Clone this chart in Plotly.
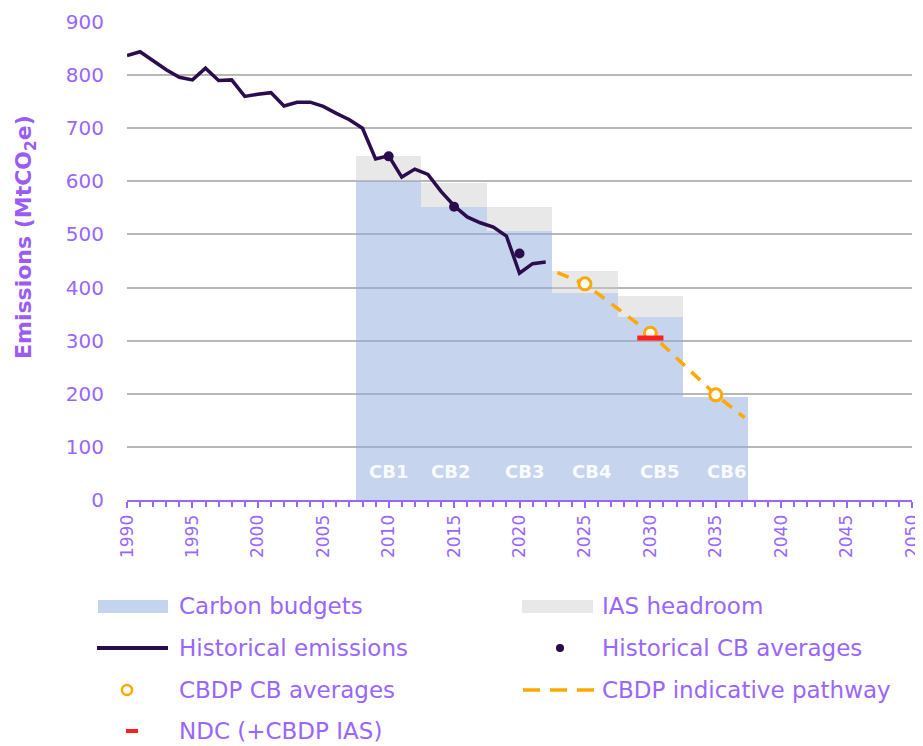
"""UK emissions vs carbon budgets chart."""

import plotly.graph_objects as go

# --- data -----------------------------------------------------------------
hist_years = list(range(1990, 2023))
hist_emissions = [
    837, 844, 827, 810, 796, 791, 813, 790, 791, 760,
    764, 767, 742, 749, 749, 741, 728, 716, 700, 642,
    648, 608, 623, 613, 581, 554, 533, 522, 514, 497,
    427, 445, 448,
]

cb_names = ["CB1", "CB2", "CB3", "CB4", "CB5", "CB6"]
cb_mid_years = [2010, 2015, 2020, 2025, 2030, 2035]
cb_budgets = [601, 552, 507, 389, 344, 194]
ias_headroom = [46, 45, 45, 42, 40, 0]
cb_label_x = [2010.0, 2014.7, 2020.4, 2025.5, 2030.7, 2035.8]

hist_cb_avg_years = [2010, 2015, 2020]
hist_cb_avg = [647, 552, 464]

cbdp_avg_years = [2025, 2030, 2035]
cbdp_avg = [407, 314, 198]

pathway_years = [2022.9, 2025, 2030, 2035, 2037.2]
pathway_values = [428, 407, 314, 198, 155]

ndc_years = [2029, 2031]
ndc_values = [305, 305]

# --- styling --------------------------------------------------------------
PURPLE = "#9966ff"
DARK = "#2b0d4d"
ORANGE = "#ffa800"
RED = "#ff1f1f"
BLUE = "#c5d4ee"
GREY = "#e8e8e8"
FONT = "DejaVu Sans"

# page body adds an 8px offset; plot area on screen is x 127..912, y 22..500
OFF = 8
W, H = 915, 738
L, R, T, B = 119, 11, 14, 246
PW, PH = W - L - R, H - T - B


def px(x):
    return (x - OFF - L) / PW


def py(y):
    return (H - B - (y - OFF)) / PH


fig = go.Figure()

fig.add_trace(go.Bar(
    x=cb_mid_years, y=cb_budgets, width=5,
    marker=dict(color="rgba(142,170,219,0.5)", line_width=0),
    name="Carbon budgets", showlegend=False,
))
fig.add_trace(go.Bar(
    x=cb_mid_years, y=ias_headroom, width=5,
    marker=dict(color="rgba(200,200,200,0.42)", line_width=0),
    name="IAS headroom", showlegend=False,
))
fig.add_trace(go.Scatter(
    x=hist_years, y=hist_emissions, mode="lines",
    line=dict(color=DARK, width=3.5),
    name="Historical emissions", showlegend=False,
))
fig.add_trace(go.Scatter(
    x=hist_cb_avg_years, y=hist_cb_avg, mode="markers",
    marker=dict(color=DARK, size=10),
    name="Historical CB averages", showlegend=False,
))
fig.add_trace(go.Scatter(
    x=pathway_years, y=pathway_values, mode="lines",
    line=dict(color=ORANGE, width=3.5, dash="12px,9px"),
    name="CBDP indicative pathway", showlegend=False,
))
fig.add_trace(go.Scatter(
    x=cbdp_avg_years, y=cbdp_avg, mode="markers",
    marker=dict(color="white", size=12, line=dict(color=ORANGE, width=3)),
    name="CBDP CB averages", showlegend=False,
))
fig.add_trace(go.Scatter(
    x=ndc_years, y=ndc_values, mode="lines",
    line=dict(color=RED, width=5),
    name="NDC (+CBDP IAS)", showlegend=False,
))

# CB labels inside the bars
for name, xv in zip(cb_names, cb_label_x):
    fig.add_annotation(
        x=xv, y=53, text=name, showarrow=False,
        font=dict(family=FONT, size=18, color="rgba(255,255,255,0.92)", weight="bold"),
    )

# y axis title
fig.add_annotation(
    xref="paper", yref="paper", x=px(25), y=py(237),
    xanchor="center", yanchor="middle",
    text="Emissions (MtCO<sub>2</sub>e)", textangle=-90, showarrow=False,
    font=dict(family=FONT, size=22, color="#9a5cf5", weight="bold"),
)

# --- manual legend --------------------------------------------------------
P = dict(xref="paper", yref="paper")
shapes = [
    dict(type="rect", x0=px(98), x1=px(168), y0=py(613), y1=py(600),
         fillcolor=BLUE, line_width=0, **P),
    dict(type="rect", x0=px(522), x1=px(593), y0=py(613), y1=py(600),
         fillcolor=GREY, line_width=0, **P),
    dict(type="line", x0=px(97), x1=px(168), y0=py(648), y1=py(648),
         line=dict(color=DARK, width=4), **P),
    dict(type="circle", x0=px(556), x1=px(564), y0=py(652), y1=py(644),
         fillcolor=DARK, line_width=0, **P),
    dict(type="circle", x0=px(122), x1=px(132), y0=py(695), y1=py(685),
         fillcolor="white", line=dict(color=ORANGE, width=2.5), **P),
    dict(type="line", x0=px(523), x1=px(594), y0=py(690), y1=py(690),
         line=dict(color=ORANGE, width=3.5, dash="17px,10px"), **P),
    dict(type="line", x0=px(126), x1=px(138), y0=py(731), y1=py(731),
         line=dict(color=RED, width=4), **P),
]
legend_items = [
    (177, 606, "Carbon budgets"), (600, 606, "IAS headroom"),
    (177, 648, "Historical emissions"), (600, 648, "Historical CB averages"),
    (177, 690, "CBDP CB averages"), (600, 690, "CBDP indicative pathway"),
    (177, 731, "NDC (+CBDP IAS)"),
]
for lx, ly, txt in legend_items:
    fig.add_annotation(
        xref="paper", yref="paper", x=px(lx), y=py(ly), text=txt,
        xanchor="left", yanchor="middle", showarrow=False,
        font=dict(family=FONT, size=23, color=PURPLE),
    )

fig.update_layout(
    width=W, height=H,
    margin=dict(l=L, r=R, t=T, b=B),
    plot_bgcolor="white", paper_bgcolor="white",
    barmode="stack", bargap=0,
    shapes=shapes,
    showlegend=False,
    font=dict(family=FONT, color=PURPLE),
    xaxis=dict(
        range=[1990, 2050], tickmode="linear", tick0=1990, dtick=5,
        tickangle=-90, showgrid=False, zeroline=False, automargin=False,
        showline=True, linecolor=PURPLE, linewidth=2,
        ticks="outside", ticklen=6, tickwidth=1.5, tickcolor=PURPLE,
        minor=dict(dtick=1, ticks="outside", ticklen=5, tickwidth=1.5, tickcolor=PURPLE),
        tickfont=dict(family=FONT, size=17, color=PURPLE),
        layer="above traces",
    ),
    yaxis=dict(
        range=[0, 900], dtick=100, showgrid=True, gridcolor="#b8b8b8",
        gridwidth=2, zeroline=False, showline=False, ticks="", automargin=False,
        ticklabelstandoff=22,
        tickfont=dict(family=FONT, size=20, color=PURPLE),
    ),
)

fig.write_html("out.html")
